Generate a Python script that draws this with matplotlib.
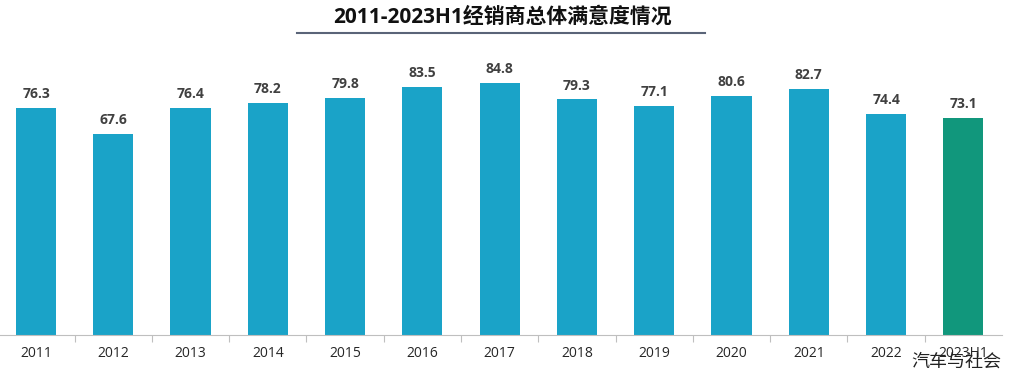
import matplotlib
matplotlib.use('Agg')
import matplotlib.pyplot as plt
import numpy as np

years = ['2011', '2012', '2013', '2014', '2015', '2016', '2017',
         '2018', '2019', '2020', '2021', '2022', '2023H1']
scores = [76.3, 67.6, 76.4, 78.2, 79.8, 83.5, 84.8,
          79.3, 77.1, 80.6, 82.7, 74.4, 73.1]
title = '2011-2023H1经销商总体满意度情况'
watermark = '汽车与社会'

plt.rcParams['font.family'] = ['Open Sans', 'Noto Sans CJK SC', 'DejaVu Sans']

blue = '#1AA3C8'
green = '#11977C'
colors = [blue] * (len(years) - 1) + [green]

fig = plt.figure(figsize=(10.13, 3.77), dpi=100)
fig.patch.set_facecolor('white')
ax = fig.add_axes([0.0, 42 / 377, 1002 / 1013, 275 / 377])

x = np.arange(len(years))
ax.bar(x, scores, width=0.52, color=colors, zorder=2)
for xi, v in zip(x, scores):
    ax.annotate(f'{v:.1f}', (xi, v), xytext=(0, 5), textcoords='offset points',
                ha='center', va='bottom', fontsize=10, fontweight='bold',
                color='#404040')

ax.set_xlim(-0.466, len(years) - 0.5)
ax.set_ylim(0, 275 / 2.97)
ax.set_xticks(x)
ax.set_xticklabels(years, fontsize=10, color='#262626')
ax.set_xticks(x[:-1] + 0.5, minor=True)
ax.tick_params(axis='x', which='major', length=0, pad=8)
ax.tick_params(axis='x', which='minor', length=5, color='#BFBFBF', width=0.8)
ax.set_yticks([])
for s in ['top', 'right', 'left']:
    ax.spines[s].set_visible(False)
ax.spines['bottom'].set_color('#BFBFBF')
ax.spines['bottom'].set_linewidth(0.8)

fig.text(0.496, 1 - 17 / 377, title, ha='center', va='center',
         fontsize=15, fontweight='bold', color='#111111')
fig.add_artist(plt.Line2D([297 / 1013, 705 / 1013], [1 - 33 / 377] * 2,
                          color='#5A6478', linewidth=1.5))
fig.text(1 - 12 / 1013, 1 - 362 / 377, watermark, ha='right', va='center',
         fontsize=13, color='#222222')

plt.savefig('out.png', transparent=False)
